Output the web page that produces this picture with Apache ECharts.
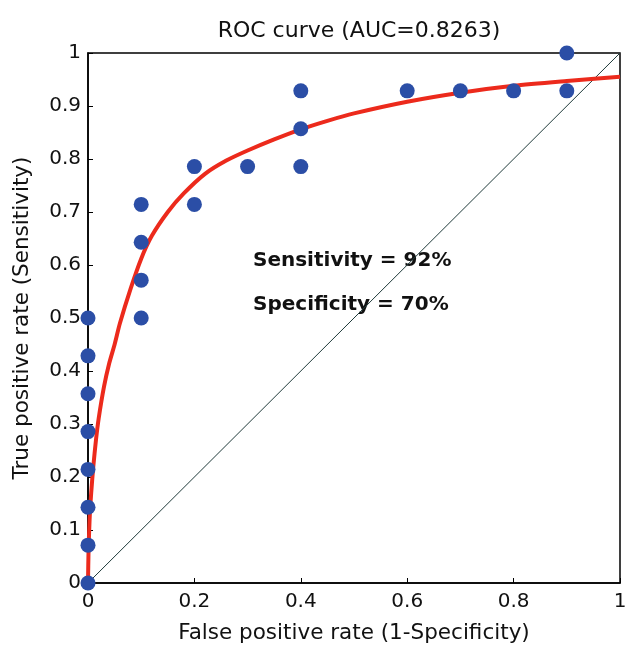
<!DOCTYPE html>
<html>
<head>
<meta charset="utf-8">
<script src="https://cdn.jsdelivr.net/npm/echarts@6/dist/echarts.min.js"></script>
<style>
html,body{margin:0;padding:0;background:#fff;}
#c{width:625px;height:651px;}
</style>
</head>
<body>
<div id="c"></div>
<script>
// Observed points (FPR, TPR)
const pointsX = [0,0,0,0,0,0,0,0, 0.1,0.1,0.1,0.1, 0.2,0.2, 0.3, 0.4,0.4,0.4, 0.6, 0.7, 0.8, 0.9,0.9];
const pointsY = [0,0.0714,0.1429,0.2143,0.2857,0.3571,0.4286,0.5, 0.5,0.5714,0.6429,0.7143, 0.7143,0.7857, 0.7857, 0.7857,0.8571,0.9286, 0.9286, 0.9286, 0.9286, 0.9286,1.0];
// Fitted ROC curve
const curveX = [0,0.001,0.003,0.006,0.01,0.015,0.02,0.03,0.04,0.05,0.06,0.08,0.1,0.12,0.15,0.18,0.22,0.26,0.3,0.35,0.4,0.45,0.5,0.6,0.7,0.8,0.9,1.0];
const curveY = [0,0.06,0.12,0.17,0.22,0.27,0.31,0.37,0.415,0.45,0.49,0.555,0.612,0.655,0.70,0.735,0.772,0.797,0.816,0.837,0.856,0.872,0.886,0.908,0.925,0.938,0.947,0.955];
// Chance line
const diagX = [0,1];
const diagY = [0,1];
const titleText = 'ROC curve (AUC=0.8263)';
const xName = 'False positive rate (1-Specificity)';
const yName = 'True positive rate (Sensitivity)';
const sensText = 'Sensitivity = 92%';
const specText = 'Specificity = 70%';

const zip = (a,b)=>a.map((v,i)=>[v,b[i]]);
const fmt = v => (v===0||v===1) ? String(v) : String(Math.round(v*10)/10);
const font = '"DejaVu Sans", Verdana, sans-serif';

const chart = echarts.init(document.getElementById('c'));
chart.setOption({
  backgroundColor:'#ffffff',
  animation:false,
  title:{text:titleText,left:354,textAlign:'center',top:15,textStyle:{fontFamily:font,fontSize:22,fontWeight:'normal',color:'#111'}},
  grid:{left:88,top:53,width:532,height:530,show:true,borderColor:'#000',borderWidth:1.5,backgroundColor:'transparent',outerBoundsMode:'none',containLabel:false},
  xAxis:{type:'value',min:0,max:1,interval:0.2,
    name:xName,nameLocation:'middle',nameGap:39,nameTextStyle:{fontFamily:font,fontSize:21.5,color:'#111'},
    axisLine:{show:true,lineStyle:{color:'#000',width:1.5}},
    axisTick:{show:true,inside:true,length:5,lineStyle:{color:'#000'}},
    axisLabel:{fontFamily:font,fontSize:20,color:'#111',margin:9,formatter:fmt},
    splitLine:{show:false}},
  yAxis:{type:'value',min:0,max:1,interval:0.1,
    name:yName,nameLocation:'middle',nameGap:55,nameTextStyle:{fontFamily:font,fontSize:21.5,color:'#111'},
    axisLine:{show:true,lineStyle:{color:'#000',width:1.5}},
    axisTick:{show:true,inside:true,length:5,lineStyle:{color:'#000'}},
    axisLabel:{fontFamily:font,fontSize:20,color:'#111',margin:7,formatter:fmt},
    splitLine:{show:false}},
  series:[
    {type:'line',data:zip(diagX,diagY),symbol:'none',lineStyle:{color:'#1f3a3a',width:1},z:1},
    {type:'line',data:zip(curveX,curveY),symbol:'none',smooth:0.25,lineStyle:{color:'#ec2a1c',width:4},z:2},
    {type:'scatter',data:zip(pointsX,pointsY),symbolSize:15,itemStyle:{color:'#2b4ea6',opacity:1},z:3}
  ],
  graphic:[
    {type:'text',left:253,top:251,style:{text:sensText,font:'bold 20px '+font,fill:'#111'}},
    {type:'text',left:253,top:295,style:{text:specText,font:'bold 20px '+font,fill:'#111'}}
  ]
});
</script>
</body>
</html>
